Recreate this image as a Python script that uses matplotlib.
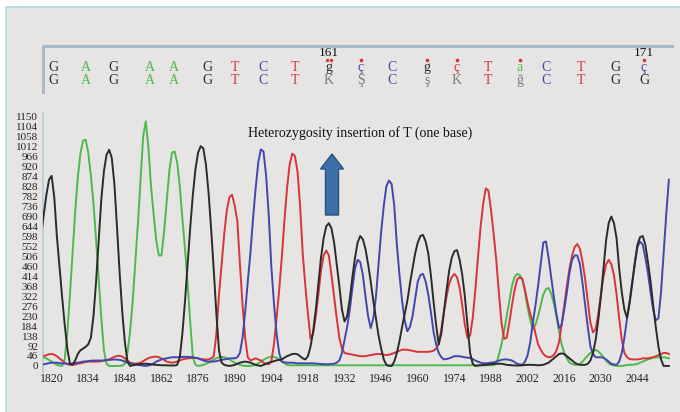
import matplotlib
matplotlib.use('Agg')
import matplotlib.pyplot as plt
import matplotlib.transforms as mtransforms
from matplotlib.patches import Rectangle, FancyArrow
from matplotlib.lines import Line2D

# scan positions of the trace, 1816 .. 2056
scans = list(range(1816, 2057))

# G channel (black)
trace_g = [600, 700, 790, 860, 878, 780, 600, 460, 320, 190,
           80, 10, 5, 25, 55, 72, 80, 88, 100, 130,
           230, 390, 580, 770, 900, 975, 998, 960, 840, 640,
           430, 250, 110, 20, 0, 3, 5, 7, 8, 10,
           10, 9, 8, 6, 5, 4, 3, 3, 3, 2,
           2, 2, 5, 40, 150, 300, 470, 640, 790, 910,
           985, 1015, 1005, 930, 800, 630, 440, 240, 70, 15,
           5, 2, 0, 2, 5, 10, 15, 18, 20, 18,
           15, 10, 5, 2, 0, 5, 10, 15, 18, 22,
           26, 28, 30, 38, 45, 50, 55, 56, 54, 45,
           35, 30, 45, 90, 160, 260, 380, 500, 590, 645,
           659, 635, 570, 470, 370, 260, 205, 230, 310, 410,
           500, 570, 600, 585, 540, 470, 390, 300, 220, 140,
           80, 30, 5, 0, 0, 20, 60, 115, 180, 240,
           300, 380, 450, 520, 570, 600, 605, 575, 520, 420,
           300, 190, 100, 150, 250, 350, 440, 500, 530, 535,
           490, 420, 320, 190, 60, 10, 0, 2, 3, 4,
           5, 7, 8, 9, 10, 10, 10, 8, 5, 4,
           3, 2, 2, 2, 3, 4, 5, 5, 5, 4,
           3, 4, 5, 10, 15, 25, 35, 45, 55, 58,
           55, 45, 35, 25, 15, 8, 5, 5, 5, 10,
           25, 60, 120, 210, 320, 450, 580, 660, 690, 660,
           590, 450, 340, 260, 222, 290, 380, 480, 560, 595,
           600, 560, 480, 390, 280, 180, 90, 30, 0, 0,
           0]

# A channel (green)
trace_a = [40, 38, 35, 28, 20, 12, 5, 2, 0, 30,
           150, 330, 520, 710, 870, 980, 1040, 1045, 985, 880,
           750, 580, 400, 220, 70, 10, 0, 0, 0, 0,
           0, 2, 10, 60, 160, 300, 480, 660, 860, 1060,
           1130, 1010, 830, 700, 580, 510, 510, 620, 760, 900,
           985, 990, 940, 830, 680, 540, 380, 200, 40, 5,
           0, 2, 5, 10, 15, 22, 30, 36, 40, 42,
           40, 36, 30, 22, 15, 10, 5, 2, 0, 0,
           0, 2, 5, 12, 20, 28, 35, 40, 43, 42,
           38, 30, 20, 12, 5, 3, 3, 3, 3, 3,
           3, 3, 3, 3, 3, 3, 3, 3, 3, 3,
           3, 3, 3, 3, 3, 3, 3, 3, 3, 3,
           3, 3, 3, 3, 3, 3, 3, 3, 3, 3,
           3, 3, 3, 3, 3, 3, 3, 3, 3, 3,
           3, 3, 3, 3, 3, 3, 3, 3, 3, 3,
           3, 3, 3, 3, 3, 3, 3, 3, 3, 3,
           3, 3, 3, 3, 3, 3, 3, 3, 3, 3,
           3, 3, 3, 3, 10, 50, 100, 160, 230, 300,
           370, 410, 425, 420, 400, 340, 270, 210, 170, 190,
           230, 280, 330, 355, 360, 335, 290, 230, 160, 100,
           60, 35, 15, 8, 5, 6, 10, 20, 35, 48,
           60, 68, 74, 68, 55, 40, 25, 12, 5, 2,
           0, 0, 0, 2, 5, 5, 5, 7, 10, 15,
           20, 25, 30, 34, 38, 39, 40, 40, 40, 38,
           35]

# T channel (red)
trace_t = [37, 45, 50, 54, 55, 52, 45, 35, 25, 15,
           8, 5, 5, 7, 10, 12, 15, 18, 20, 20,
           20, 20, 20, 22, 25, 28, 30, 36, 42, 46,
           47, 43, 35, 25, 15, 12, 10, 12, 15, 22,
           30, 36, 40, 42, 43, 40, 35, 28, 20, 17,
           15, 17, 20, 25, 30, 33, 35, 36, 37, 37,
           35, 32, 30, 30, 30, 35, 45, 150, 330, 470,
           610, 720, 780, 790, 740, 670, 470, 280, 130, 40,
           25, 30, 35, 30, 25, 15, 10, 8, 20, 100,
           220, 350, 500, 670, 820, 930, 980, 970, 900, 740,
           520, 370, 240, 125, 150, 230, 330, 440, 510, 533,
           510, 420, 320, 220, 130, 80, 60, 57, 55, 52,
           50, 47, 45, 45, 45, 48, 50, 52, 55, 55,
           55, 52, 50, 52, 55, 60, 65, 70, 75, 75,
           75, 72, 70, 67, 65, 65, 65, 65, 65, 67,
           70, 80, 100, 170, 250, 320, 380, 410, 425, 410,
           360, 280, 190, 130, 140, 220, 350, 500, 640, 750,
           820, 810, 720, 610, 490, 340, 200, 125, 130, 200,
           280, 350, 400, 410, 400, 350, 290, 240, 200, 150,
           100, 75, 55, 45, 40, 42, 50, 70, 110, 190,
           280, 370, 450, 510, 550, 563, 540, 480, 400, 300,
           200, 155, 170, 240, 330, 410, 470, 490, 470, 420,
           330, 220, 120, 60, 40, 32, 30, 30, 30, 32,
           35, 35, 35, 38, 40, 45, 50, 55, 60, 60,
           55]

# C channel (blue)
trace_c = [5, 8, 10, 13, 15, 15, 15, 13, 12, 11,
           10, 10, 12, 13, 15, 17, 20, 21, 22, 24,
           25, 25, 25, 25, 25, 27, 28, 29, 30, 29,
           28, 25, 20, 15, 12, 10, 8, 5, 3, 1,
           0, 2, 5, 12, 20, 25, 30, 33, 35, 38,
           40, 40, 40, 41, 42, 42, 42, 41, 40, 38,
           35, 30, 25, 22, 20, 20, 20, 22, 25, 28,
           30, 32, 35, 35, 35, 40, 60, 130, 250, 390,
           520, 680, 820, 940, 1000, 990, 880, 700, 460, 290,
           150, 60, 20, 17, 15, 15, 15, 14, 12, 12,
           12, 12, 12, 12, 12, 11, 10, 9, 8, 8,
           8, 9, 10, 15, 25, 60, 120, 180, 260, 360,
           450, 490, 480, 420, 320, 230, 175, 220, 320, 470,
           620, 740, 830, 856, 840, 740, 560, 420, 300, 210,
           160, 180, 230, 310, 390, 420, 425, 390, 330, 250,
           160, 100, 60, 40, 30, 32, 35, 40, 45, 45,
           45, 42, 40, 38, 37, 32, 25, 20, 15, 13,
           12, 13, 15, 17, 20, 24, 28, 30, 30, 28,
           25, 18, 10, 7, 5, 20, 50, 110, 200, 280,
           370, 470, 570, 575, 500, 410, 320, 240, 175, 190,
           260, 340, 430, 490, 510, 510, 470, 380, 280, 180,
           90, 55, 40, 40, 40, 38, 30, 20, 10, 7,
           5, 20, 60, 130, 220, 300, 390, 470, 550, 574,
           560, 500, 430, 340, 260, 210, 220, 340, 520, 700,
           860]

# base calls above the trace
base_pos = [1820.5, 1833.1, 1843.5, 1857.6, 1866.8, 1879.4, 1890.1, 1900.8, 1913.0, 1926.0,
            1938.3, 1950.1, 1963.5, 1975.0, 1986.9, 1999.1, 2009.0, 2022.4, 2035.4, 2046.5]
top_calls = ['G', 'A', 'G', 'A', 'A', 'G', 'T', 'C', 'T', 'g',
             'ç', 'C', 'g', 'ç', 'T', 'a', 'C', 'T', 'G', 'ç']
top_color_key = 'GAGAAGTCTGCCGTTACTGC'
bottom_calls = ['G', 'A', 'G', 'A', 'A', 'G', 'T', 'C', 'T', 'K',
                'Ş', 'C', 'ş', 'K', 'T', 'ğ', 'C', 'T', 'G', 'G']
marked = [9, 10, 12, 13, 15, 19]
base_numbers = {9: '161', 19: '171'}

x_ticks = [1820, 1834, 1848, 1862, 1876, 1890, 1904, 1918, 1932, 1946,
           1960, 1974, 1988, 2002, 2016, 2030, 2044]
y_ticks = list(range(0, 1151, 46))

colors = {'G': '#2b2b2b', 'A': '#4cba4c', 'T': '#d8343a', 'C': '#4347ad', 'N': '#7a7a7a'}
serif = 'Liberation Serif'

W, H = 680, 412
fig = plt.figure(figsize=(W / 100, H / 100), dpi=100, facecolor='#e6e5e3')

# white margin and thin cyan frame at top/left
fig.patches.append(Rectangle((0, 0), 5 / W, 1, transform=fig.transFigure, color='white', zorder=0))
fig.patches.append(Rectangle((0, 1 - 6 / H), 1, 6 / H, transform=fig.transFigure, color='white', zorder=0))
fig.add_artist(Line2D([5.5 / W, 5.5 / W, 1], [0, 1 - 6.5 / H, 1 - 6.5 / H],
                      transform=fig.transFigure, color='#a9dbe6', lw=1.2))

ax = fig.add_axes([43 / W, 40 / H, 629 / W, 259 / H])
ax.set_facecolor('none')

ax.plot(scans, trace_a, color=colors['A'], lw=1.4, zorder=2)
ax.plot(scans, trace_t, color=colors['T'], lw=1.4, zorder=3)
ax.plot(scans, trace_c, color=colors['C'], lw=1.4, zorder=4)
ax.plot(scans, trace_g, color=colors['G'], lw=1.4, zorder=5)

ax.set_xlim(1816.7, 2057.2)
ax.set_ylim(-28, 1168)
ax.set_xticks(x_ticks)
ax.set_xticklabels([str(t) for t in x_ticks], fontfamily=serif, fontsize=8.5)
ax.set_yticks(y_ticks)
ax.set_yticklabels([str(t) for t in y_ticks], fontfamily=serif, fontsize=8)
ax.tick_params(axis='both', length=0, colors='#222222')
ax.tick_params(axis='y', pad=3.5)
ax.tick_params(axis='x', pad=1)
for side in ['top', 'right', 'bottom']:
    ax.spines[side].set_visible(False)
ax.spines['left'].set_color('#b8cfe0')
ax.spines['left'].set_linewidth(1.5)

# base call rows
tr = mtransforms.blended_transform_factory(ax.transData, fig.transFigure)
row1_y = 1 - 67.5 / H
row2_y = 1 - 80.5 / H
for i, pos in enumerate(base_pos):
    c1 = colors[top_color_key[i]]
    ax.text(pos, row1_y, top_calls[i], transform=tr, ha='center', va='center',
            fontfamily=serif, fontsize=10, color=c1, clip_on=False)
    b = bottom_calls[i]
    c2 = colors[b] if b in colors else colors['N']
    ax.text(pos, row2_y, b, transform=tr, ha='center', va='center',
            fontfamily=serif, fontsize=10, color=c2, clip_on=False)
for i in marked:
    if i == 9:
        ax.plot([base_pos[i] - 0.75, base_pos[i] + 0.75], [1 - 60 / H] * 2, 'o', ms=1.4,
                color='#d8343a', transform=tr, clip_on=False)
    else:
        ax.plot([base_pos[i]], [1 - 60 / H], 'o', ms=1.6, color='#d8343a',
                transform=tr, clip_on=False)
for i, label in base_numbers.items():
    ax.text(base_pos[i], 1 - 53.5 / H, label, transform=tr, ha='center', va='center',
            fontfamily=serif, fontsize=9.5, color='#111111', clip_on=False)

# bracket above the base calls
fig.add_artist(Line2D([43 / W, 43 / W, 672 / W], [1 - 92 / H, 1 - 45.5 / H, 1 - 45.5 / H],
                      transform=fig.transFigure, color='#a9b9c8', lw=2.2))

# annotation
fig.text(360 / W, 1 - 133 / H, 'Heterozygosity insertion of T (one base)',
         ha='center', va='center', fontfamily=serif, fontsize=10, color='#111111')
arrow = FancyArrow(332 / 100, (H - 215) / 100, 0, 0.46, width=0.13, head_width=0.23,
                   head_length=0.15, length_includes_head=False,
                   transform=fig.dpi_scale_trans, facecolor='#3d70a8', edgecolor='#2b5283', lw=1)
fig.patches.append(arrow)

fig.savefig('out.png', dpi=100, facecolor=fig.get_facecolor())
